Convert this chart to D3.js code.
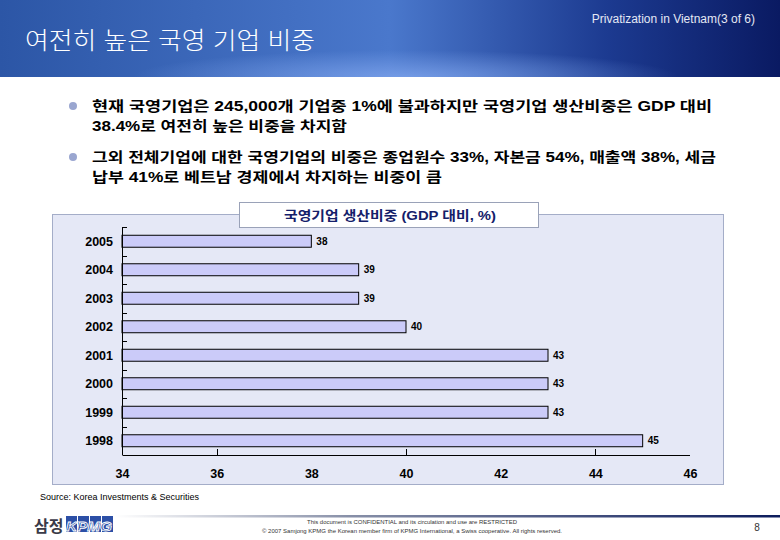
<!DOCTYPE html>
<html>
<head>
<meta charset="utf-8">
<script src="https://cdn.jsdelivr.net/npm/d3@7"></script>
<style>
  body { margin: 0; background: #fff; }
  svg { display: block; }
  text { font-family: "Liberation Sans", "Noto Sans CJK KR", sans-serif; }
</style>
</head>
<body>
<div id="chart"></div>
<script>
// chart data
var years = ['2005', '2004', '2003', '2002', '2001', '2000', '1999', '1998'];
var shares = [38, 39, 39, 40, 43, 43, 43, 45];
var xTicks = [34, 36, 38, 40, 42, 44, 46];
var xMarks = [36, 40, 44];

var pageTitle = '여전히 높은 국영 기업 비중';
var pageTag = 'Privatization in Vietnam(3 of 6)';
var bullets = [
  ['현재 국영기업은 245,000개 기업중 1%에 불과하지만 국영기업 생산비중은 GDP 대비',
   '38.4%로 여전히 높은 비중을 차지함'],
  ['그외 전체기업에 대한 국영기업의 비중은 종업원수 33%, 자본금 54%, 매출액 38%, 세금',
   '납부 41%로 베트남 경제에서 차지하는 비중이 큼']
];
var bulletWidths = [[620, 255], [624, 350]];
var chartTitle = '국영기업 생산비중 (GDP 대비, %)';
var source = 'Source: Korea Investments & Securities';
var footLines = ['This document is CONFIDENTIAL and its circulation and use are RESTRICTED',
  '© 2007 Samjong KPMG the Korean member firm of KPMG International, a Swiss cooperative. All rights reserved.'];
var footWidths = [210, 300];

var W = 780, H = 540;
var svg = d3.select('#chart').append('svg')
  .attr('width', W).attr('height', H);

var defs = svg.append('defs');

var hg = defs.append('linearGradient').attr('id', 'headGrad')
  .attr('x1', '0%').attr('x2', '100%').attr('y1', '0%').attr('y2', '0%');
hg.append('stop').attr('offset', '0%').attr('stop-color', '#2c56a6');
hg.append('stop').attr('offset', '50%').attr('stop-color', '#4a78cc');
hg.append('stop').attr('offset', '78%').attr('stop-color', '#1c3a90');
hg.append('stop').attr('offset', '100%').attr('stop-color', '#0a1a62');

var hr = defs.append('radialGradient').attr('id', 'headGlow')
  .attr('cx', '52%').attr('cy', '100%').attr('r', '35%');
hr.append('stop').attr('offset', '0%').attr('stop-color', '#7ea4ec').attr('stop-opacity', 0.8);
hr.append('stop').attr('offset', '100%').attr('stop-color', '#7ea4ec').attr('stop-opacity', 0);

var fg = defs.append('linearGradient').attr('id', 'footGrad')
  .attr('x1', '0%').attr('x2', '100%');
fg.append('stop').attr('offset', '0%').attr('stop-color', '#ffffff');
fg.append('stop').attr('offset', '35%').attr('stop-color', '#8890a8');
fg.append('stop').attr('offset', '100%').attr('stop-color', '#0c1c5c');

// header band
svg.append('rect').attr('x', 0).attr('y', 0).attr('width', W).attr('height', 77)
  .attr('fill', 'url(#headGrad)');
svg.append('rect').attr('x', 0).attr('y', 0).attr('width', W).attr('height', 77)
  .attr('fill', 'url(#headGlow)');

svg.append('text').attr('x', 25).attr('y', 49)
  .attr('fill', '#fff').attr('font-size', 24).attr('font-weight', 300)
  .attr('textLength', 290).attr('lengthAdjust', 'spacingAndGlyphs')
  .text(pageTitle);

svg.append('text').attr('x', 755).attr('y', 23)
  .attr('text-anchor', 'end').attr('fill', '#e4e8f4').attr('font-size', 12)
  .text(pageTag);

// bullets
bullets.forEach(function(lines, i) {
  var top = 110 + i * 51;
  svg.append('circle').attr('cx', 73).attr('cy', top - 4).attr('r', 4)
    .attr('fill', '#9aa6d0');
  lines.forEach(function(line, j) {
    svg.append('text').attr('x', 92).attr('y', top + j * 20 + 1)
      .attr('font-size', 14).attr('font-weight', 'bold').attr('fill', '#000')
      .attr('textLength', bulletWidths[i][j]).attr('lengthAdjust', 'spacingAndGlyphs')
      .text(line);
  });
});

// chart panel
svg.append('rect').attr('x', 52.5).attr('y', 214.5).attr('width', 671).attr('height', 270)
  .attr('fill', '#e5e8f6').attr('stroke', '#a4adc8');

svg.append('rect').attr('x', 239.5).attr('y', 202.5).attr('width', 299).attr('height', 25)
  .attr('fill', '#fff').attr('stroke', '#9aa2b8');
svg.append('text').attr('x', 390).attr('y', 219.5)
  .attr('text-anchor', 'middle').attr('font-size', 13).attr('font-weight', 'bold')
  .attr('fill', '#14206a')
  .attr('textLength', 212).attr('lengthAdjust', 'spacingAndGlyphs')
  .text(chartTitle);

var x = d3.scaleLinear().domain([34, 46]).range([122, 690]);
var y = d3.scaleBand().domain(years).range([227, 455])
  .paddingInner(0.58).paddingOuter(0.29);

var plot = svg.append('g');

plot.selectAll('rect.bar')
  .data(shares)
  .enter().append('rect')
  .attr('class', 'bar')
  .attr('x', x(34))
  .attr('y', function(d, i) { return y(years[i]); })
  .attr('width', function(d) { return x(d) - x(34); })
  .attr('height', y.bandwidth())
  .attr('fill', '#cbcbf9')
  .attr('stroke', '#000')
  .attr('stroke-width', 1);

plot.selectAll('text.val')
  .data(shares)
  .enter().append('text')
  .attr('class', 'val')
  .attr('x', function(d) { return x(d) + 5; })
  .attr('y', function(d, i) { return y(years[i]) + y.bandwidth() / 2 + 3.5; })
  .attr('font-size', 10).attr('font-weight', 'bold')
  .text(function(d) { return d; });

// y axis with ticks between bars
var gap = (y.step() - y.bandwidth()) / 2;
plot.append('line').attr('x1', 122.5).attr('x2', 122.5).attr('y1', 227).attr('y2', 455)
  .attr('stroke', '#000');
plot.selectAll('line.ytick')
  .data(years)
  .enter().append('line')
  .attr('class', 'ytick')
  .attr('x1', 122.5).attr('x2', 127)
  .attr('y1', function(d) { return Math.round(y(d) - gap) + 0.5; })
  .attr('y2', function(d) { return Math.round(y(d) - gap) + 0.5; })
  .attr('stroke', '#000');

plot.selectAll('text.year')
  .data(years)
  .enter().append('text')
  .attr('class', 'year')
  .attr('x', 113)
  .attr('y', function(d) { return y(d) + y.bandwidth() / 2 + 4.5; })
  .attr('text-anchor', 'end')
  .attr('font-size', 12.5).attr('font-weight', 'bold')
  .text(function(d) { return d; });

// x axis
var xAxis = plot.append('g')
  .attr('transform', 'translate(0,455)')
  .call(d3.axisBottom(x).tickValues(xTicks).tickSize(0).tickPadding(14));
xAxis.select('.domain').attr('stroke', '#000').attr('d', 'M122.5,0.5H690');
xAxis.selectAll('text')
  .attr('font-size', 12.5).attr('font-weight', 'bold').attr('fill', '#000')
  .attr('font-family', '"Liberation Sans", sans-serif');

plot.selectAll('line.xmark')
  .data(xMarks)
  .enter().append('line')
  .attr('class', 'xmark')
  .attr('x1', function(d) { return Math.round(x(d)) + 0.5; })
  .attr('x2', function(d) { return Math.round(x(d)) + 0.5; })
  .attr('y1', 449).attr('y2', 455)
  .attr('stroke', '#000');

// source + footer
svg.append('text').attr('x', 40).attr('y', 500)
  .attr('font-size', 9).attr('fill', '#000')
  .text(source);

svg.append('rect').attr('x', 115).attr('y', 515).attr('width', 665).attr('height', 2.5)
  .attr('fill', 'url(#footGrad)');

svg.append('text').attr('x', 34).attr('y', 532)
  .attr('font-size', 16).attr('font-weight', 'bold').attr('fill', '#3a3a48')
  .attr('font-family', '"Noto Sans CJK KR", sans-serif')
  .text('삼정');

[0, 1, 2, 3].forEach(function(k) {
  svg.append('rect').attr('x', 66 + k * 12).attr('y', 516)
    .attr('width', 11).attr('height', 16).attr('fill', '#2c4fa6');
});
svg.append('text').attr('x', 66).attr('y', 531)
  .attr('font-size', 13).attr('font-style', 'italic').attr('font-weight', 'bold')
  .attr('fill', '#2c4fa6').attr('stroke', '#fff').attr('stroke-width', 0.8)
  .attr('textLength', 46).attr('lengthAdjust', 'spacingAndGlyphs')
  .text('KPMG');

footLines.forEach(function(t, i) {
  svg.append('text').attr('x', 412).attr('y', 524 + i * 9)
    .attr('text-anchor', 'middle').attr('font-size', 5.5).attr('fill', '#333')
    .attr('textLength', footWidths[i]).attr('lengthAdjust', 'spacingAndGlyphs')
    .text(t);
});

svg.append('text').attr('x', 757).attr('y', 531)
  .attr('text-anchor', 'middle').attr('font-size', 10).attr('fill', '#333')
  .text('8');
</script>
</body>
</html>
